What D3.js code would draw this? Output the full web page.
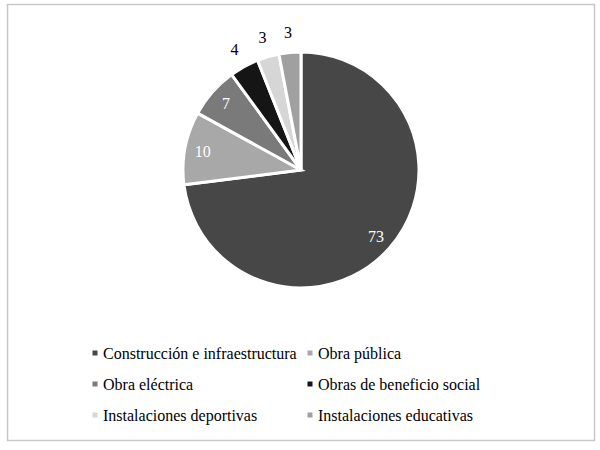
<!DOCTYPE html>
<html>
<head>
<meta charset="utf-8">
<script src="https://cdn.jsdelivr.net/npm/d3@7"></script>
<style>
  html, body { margin: 0; padding: 0; background: #fff; }
  svg { display: block; }
</style>
</head>
<body>
<svg id="chart" width="600" height="450"></svg>
<script>
const categories = ["Construcción e infraestructura", "Obra pública", "Obra eléctrica",
                    "Obras de beneficio social", "Instalaciones deportivas", "Instalaciones educativas"];
const values = [73, 10, 7, 4, 3, 3];
const colors = ["#474747", "#a8a8a8", "#7a7a7a", "#151515", "#d6d6d6", "#a0a0a0"];
const labelInside = [true, true, true, false, false, false];

const FONT = "'Liberation Serif', 'Times New Roman', Times, serif";
const svg = d3.select("#chart");

// outer frame
svg.append("rect")
  .attr("x", 7.5).attr("y", 4.5)
  .attr("width", 587).attr("height", 436)
  .attr("fill", "#fff")
  .attr("stroke", "#c8c8c8")
  .attr("stroke-width", 1.5);

const cx = 301, cy = 170, r = 118;
const g = svg.append("g").attr("transform", `translate(${cx},${cy})`);

const pie = d3.pie().sort(null).value(d => d)(values);
const arc = d3.arc().innerRadius(0).outerRadius(r);
const inArc = d3.arc().innerRadius(100).outerRadius(100);
const outArc = d3.arc().innerRadius(138).outerRadius(138);

g.selectAll("path.slice")
  .data(pie)
  .join("path")
  .attr("class", "slice")
  .attr("d", arc)
  .attr("fill", (d, i) => colors[i])
  .attr("stroke", "#fff")
  .attr("stroke-width", 3)
  .attr("stroke-linejoin", "miter");

g.selectAll("text.lbl")
  .data(pie)
  .join("text")
  .attr("class", "lbl")
  .attr("transform", (d, i) => `translate(${(labelInside[i] ? inArc : outArc).centroid(d)})`)
  .attr("text-anchor", "middle")
  .attr("dy", "0.35em")
  .attr("font-family", FONT)
  .attr("font-size", 16)
  .attr("fill", (d, i) => labelInside[i] ? "#fff" : "#000")
  .text(d => d.data);

// legend
const colX = [95, 310];
const rowY = [353, 384, 415];
const leg = svg.append("g");
categories.forEach((c, i) => {
  const x = colX[i % 2], y = rowY[Math.floor(i / 2)];
  leg.append("rect")
    .attr("x", x - 2.5).attr("y", y - 2.5)
    .attr("width", 5).attr("height", 5)
    .attr("fill", colors[i]);
  leg.append("text")
    .attr("x", x + 8).attr("y", y)
    .attr("dy", "0.35em")
    .attr("font-family", FONT)
    .attr("font-size", 16)
    .attr("fill", "#000")
    .text(c);
});
</script>
</body>
</html>
